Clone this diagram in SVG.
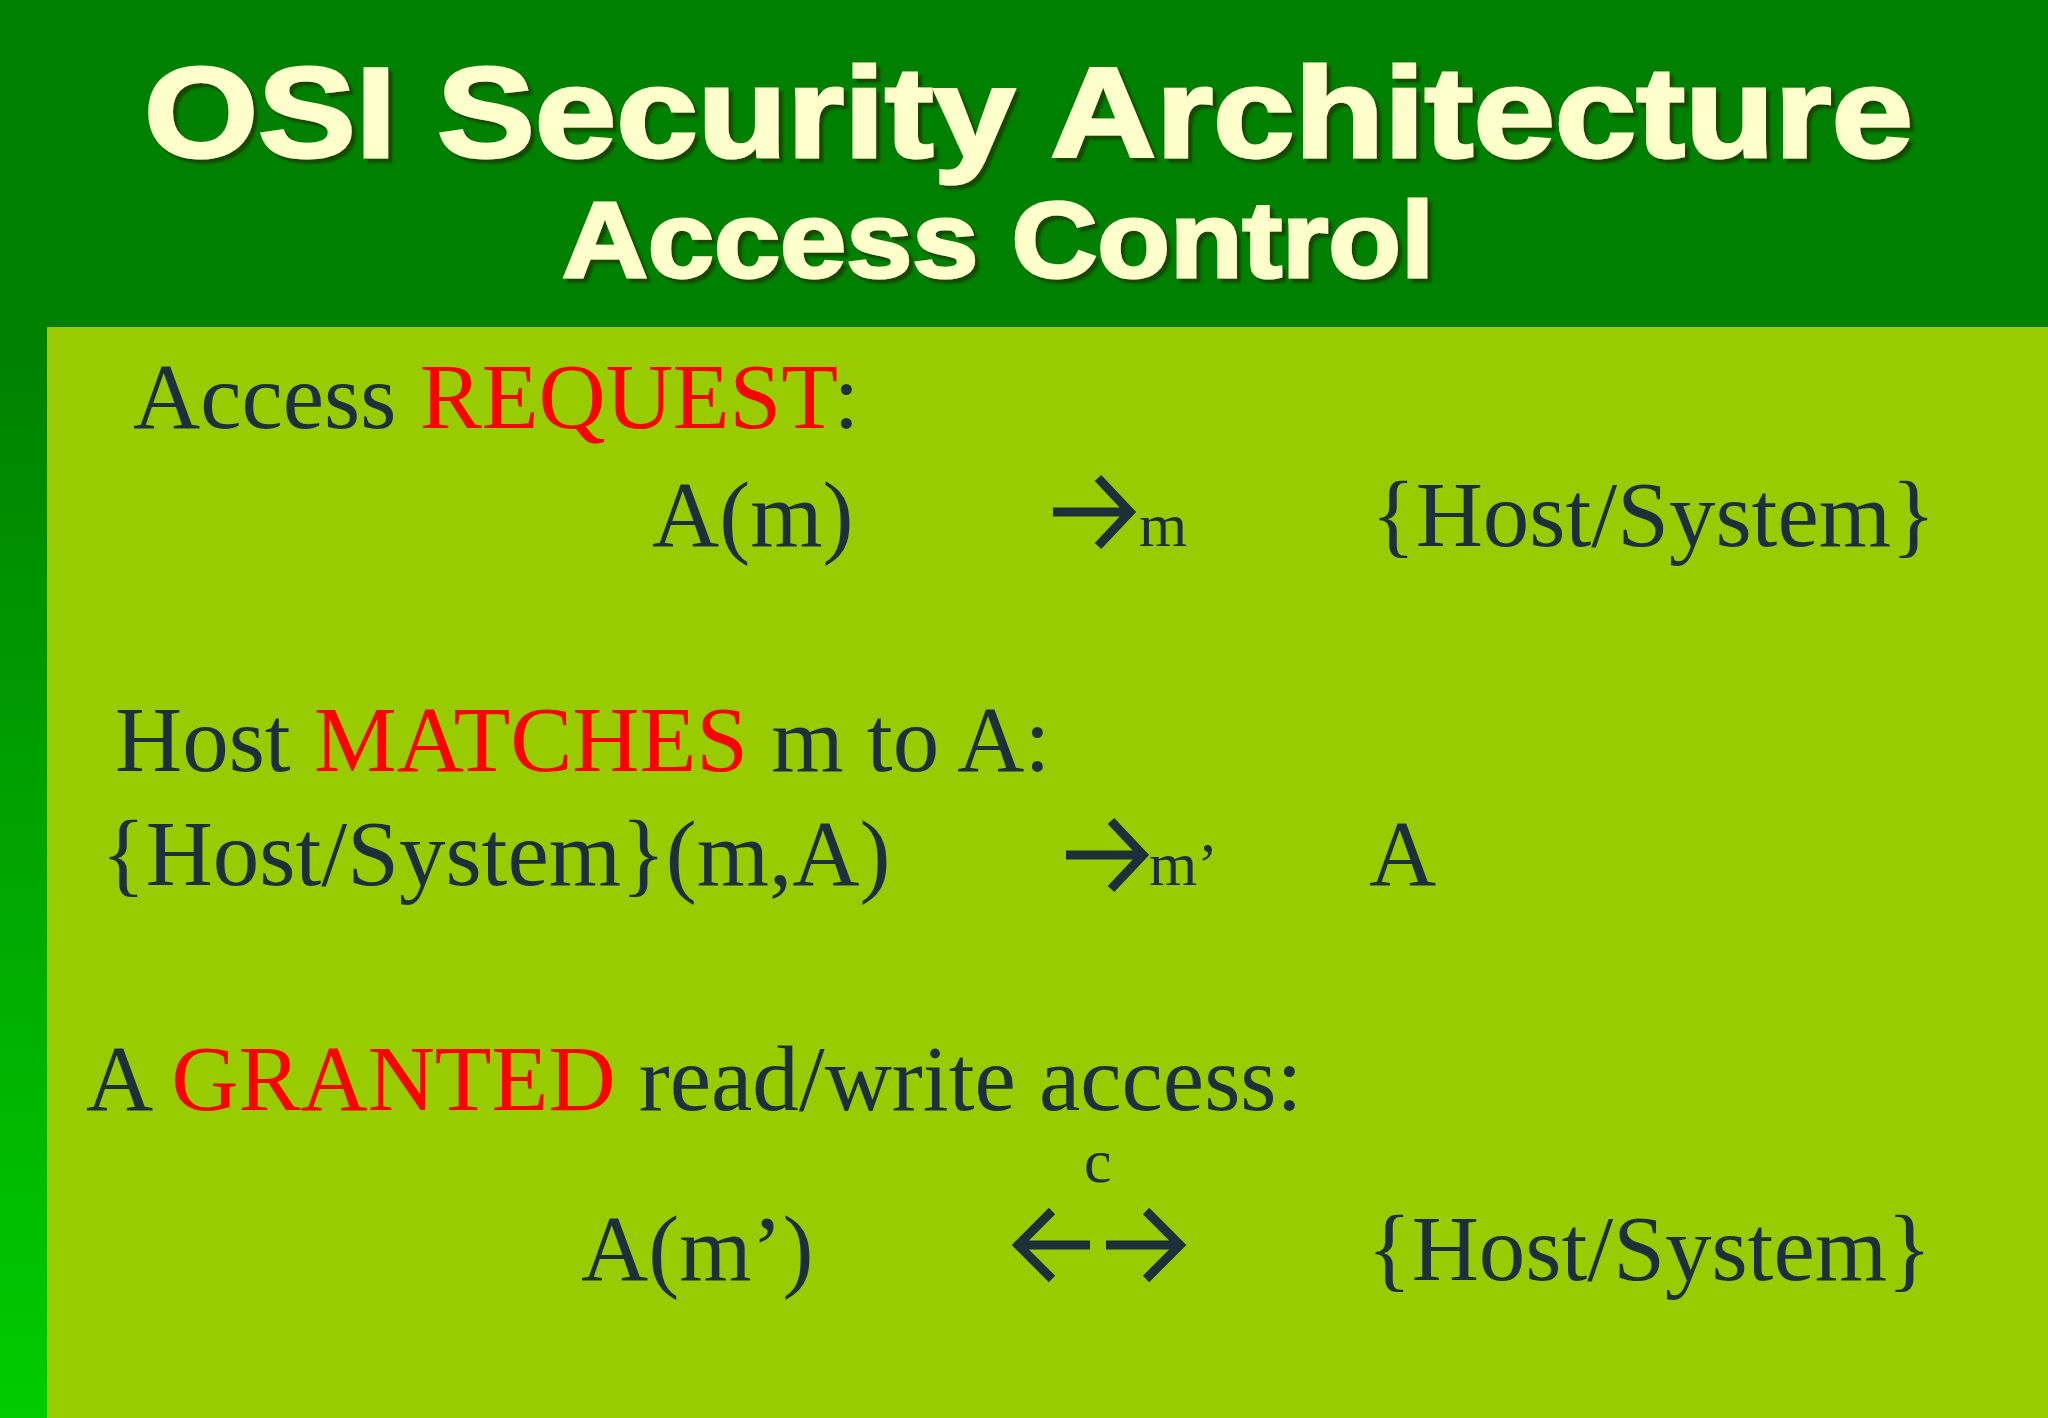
<svg xmlns="http://www.w3.org/2000/svg" width="2048" height="1418" viewBox="0 0 2048 1418">
<defs>
<linearGradient id="side" x1="0" y1="0" x2="0" y2="1"><stop offset="0" stop-color="#008000"/><stop offset="1" stop-color="#00cc00"/></linearGradient>
<filter id="sh" x="-5%" y="-5%" width="110%" height="120%"><feDropShadow dx="4" dy="4" stdDeviation="1" flood-color="#1a3a00" flood-opacity="0.8"/></filter>
</defs>
<style>
.t{font-family:"Liberation Sans",Arial,sans-serif;font-weight:bold;fill:#ffffcc;stroke:#ffffcc;stroke-width:3}
.b{font-family:"Liberation Serif","Times New Roman",serif;fill:#1f2f3a;font-size:93px}
.r{fill:#ff0000}
.s{font-family:"Liberation Serif","Times New Roman",serif;fill:#1f2f3a;font-size:62px}
.ar{fill:none;stroke:#1f2f3a;stroke-width:9}
</style>
<rect width="2048" height="1418" fill="#008000"/>
<rect x="0" y="327" width="47" height="1091" fill="url(#side)"/>
<rect x="47" y="327" width="2001" height="1091" fill="#99cc00"/>
<g id="title" filter="url(#sh)">
<text class="t" x="144" y="157" font-size="128" textLength="1769" lengthAdjust="spacingAndGlyphs">OSI Security Architecture</text>
<text class="t" x="562" y="277" font-size="108" textLength="872" lengthAdjust="spacingAndGlyphs">Access Control</text>
</g>
<g id="request">
<text class="b" x="133" y="428">Access <tspan class="r">REQUEST</tspan>:</text>
<text class="b" x="652" y="546">A(m)</text>
<text class="s" x="1139" y="546">m</text>
<text class="b" x="1371" y="546">{Host/System}</text>
</g>
<g id="matches">
<text class="b" x="115" y="771">Host <tspan class="r">MATCHES</tspan> m to A:</text>
<text class="b" x="101" y="885">{Host/System}(m,A)</text>
<text class="s" x="1149" y="885">m’</text>
<text class="b" x="1369" y="885">A</text>
</g>
<g id="granted">
<text class="b" x="86" y="1110">A <tspan class="r">GRANTED</tspan> read/write access:</text>
<text class="s" x="1084" y="1182">c</text>
<text class="b" x="581" y="1280">A(m’)</text>
<text class="b" x="1367" y="1280">{Host/System}</text>
</g>
<g id="connectors">
<path class="ar" d="M1053 512 H1128 M1098 478 L1130 512 L1098 546"/>
<path class="ar" d="M1066 855 H1141 M1111 821 L1143 855 L1111 889"/>
<path class="ar" d="M1090 1245 H1020 M1052 1211 L1018 1245 L1052 1279"/>
<path class="ar" d="M1106 1245 H1178 M1146 1211 L1180 1245 L1146 1279"/>
</g>
</svg>
